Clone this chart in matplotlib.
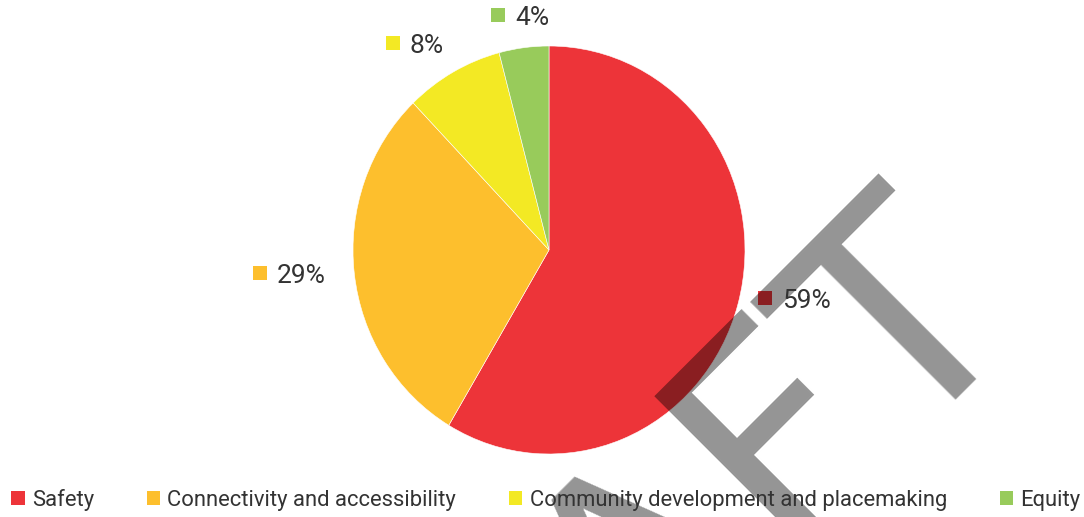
import numpy as np
import matplotlib
matplotlib.use("Agg")
import matplotlib.pyplot as plt
from matplotlib.patches import Patch
from matplotlib import font_manager as fm

plt.rcParams['font.family'] = ['Roboto', 'DejaVu Sans']

# data
categories = ['Safety', 'Connectivity and accessibility',
              'Community development and placemaking', 'Equity']
values = [58.6, 29.3, 8.1, 4.1]
colors = ['#ED3439', '#FDBF2D', '#F3E924', '#98CB5B']

# label placement (radius in pie radii, angle shift in degrees)
label_r = [1.127, 1.478, 1.290, 1.181]
label_shift = [3.4, -2.2, 8.8, 5.3]

W, H = 1084, 517
cx, cy = 549, 250          # pie centre, pixels from top-left
rx, ry = 196, 204          # pie radius in x / y pixels

fig = plt.figure(figsize=(W / 100, H / 100), dpi=100)
ax = fig.add_axes([0, 0, 1, 1])

wedges, _ = ax.pie(values, colors=colors, startangle=90, counterclock=False,
                   wedgeprops=dict(edgecolor='white', linewidth=0.4, zorder=1))
ax.set_aspect('auto')
ax.set_xlim(-cx / rx, (W - cx) / rx)
ax.set_ylim(-(H - cy) / ry, cy / ry)
ax.axis('off')

# data labels
total = sum(values)
cum = 0
for v, c, r, sh in zip(values, colors, label_r, label_shift):
    mid = 90 - 360 * (cum + v / 2) / total + sh
    cum += v
    x = r * np.cos(np.radians(mid))
    y = r * np.sin(np.radians(mid))
    ax.plot(x, y, marker='s', markersize=9.6, color=c, zorder=1.5,
            markeredgewidth=0)
    ax.annotate(f"{v:.0f}%", (x, y), xytext=(12, -2.5), textcoords='offset points',
                ha='left', va='center', fontsize=19, color='#333333', zorder=4)

# watermark
names = {f.name for f in fm.fontManager.ttflist}
wm_font = 'Liberation Sans Narrow' if 'Liberation Sans Narrow' in names else 'DejaVu Sans'
ax.text(1021 / W, 213 / H, 'DRAFT', transform=ax.transAxes, rotation=45,
        rotation_mode='anchor', ha='right', va='baseline', fontsize=212,
        family=wm_font, color='black', alpha=0.42, zorder=2, clip_on=False)

handles = [Patch(facecolor=c, edgecolor='none') for c in colors]
leg = ax.legend(handles, categories, loc='center', ncol=4,
                bbox_to_anchor=(546 / W, 17 / H), bbox_transform=fig.transFigure,
                frameon=False, fontsize=15.8, handlelength=0.6, handleheight=0.6,
                handletextpad=0.33, columnspacing=2.42, borderpad=0, borderaxespad=0)
for t in leg.get_texts():
    t.set_color('#333333')
leg.set_zorder(5)

fig.savefig('out.png', dpi=100)
